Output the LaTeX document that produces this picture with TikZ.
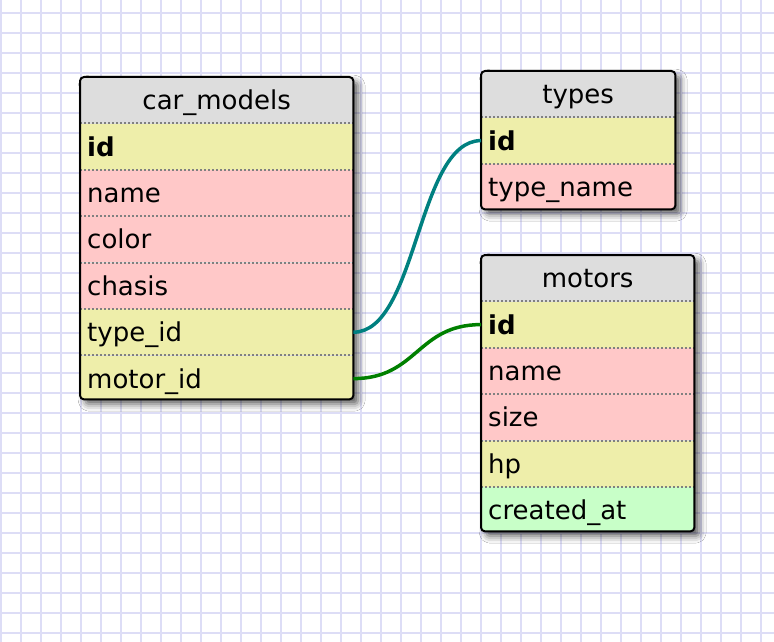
\documentclass[tikz,border=0pt]{standalone}
\usepackage{fontspec}
\setmainfont{DejaVu Sans}
\usetikzlibrary{positioning}
\usetikzlibrary{shadows.blur}
\definecolor{gridc}{RGB}{221, 221, 246}
\definecolor{headc}{RGB}{221, 221, 221}
\definecolor{keyc}{RGB}{238, 238, 170}
\definecolor{colc}{RGB}{255, 200, 200}
\definecolor{datec}{RGB}{200, 255, 200}
\definecolor{sepc}{RGB}{128, 128, 128}
\definecolor{linkteal}{RGB}{0, 128, 128}
\definecolor{linkgreen}{RGB}{0, 128, 0}
\tikzset{
  gridline/.style={line width=2pt, color=gridc},
  frame/.style={rectangle, rounded corners=4pt, inner sep=0pt, anchor=north west, fill=headc,
    blur shadow={shadow xshift=5pt, shadow yshift=-5pt, shadow blur radius=7pt, shadow opacity=65}},
  border/.style={line width=2pt, color=black, rounded corners=4pt},
  cell/.style={rectangle, inner xsep=7pt, inner ysep=0pt, minimum height=46pt,
    text height=22pt, text depth=3pt, align=left},
  head/.style={cell, fill=headc, align=center, anchor=north west},
  sep/.style={line width=2pt, color=sepc, dash pattern=on 2pt off 2pt},
  link/.style={line width=3.5pt}
}
\begin{document}
\begin{tikzpicture}[x=1pt, y=-1pt, font=\fontsize{26}{30}\selectfont]
\useasboundingbox (0,0) rectangle (774,642);
\fill[white] (0,0) rectangle (774,642);
\foreach \x in {1,21,...,761} \draw[gridline] (\x,0) -- (\x,642);
\foreach \y in {13,33,...,633} \draw[gridline] (0,\y) -- (774,\y);

% car_models
\node (cm) [frame, minimum width=273pt, minimum height=322pt] at (80,77) {};
\begin{scope}
\clip[rounded corners=4pt] (cm.north west) rectangle (cm.south east);
\node (cm_head) [head, text width=259pt] at (80,77) {car\_models};
\node (cm_id) [cell, fill=keyc, text width=259pt, below=0pt of cm_head] {\textbf{id}};
\node (cm_name) [cell, fill=colc, text width=259pt, below=0pt of cm_id] {name};
\node (cm_color) [cell, fill=colc, text width=259pt, below=0pt of cm_name] {color};
\node (cm_chasis) [cell, fill=colc, text width=259pt, below=0pt of cm_color] {chasis};
\node (cm_type) [cell, fill=keyc, text width=259pt, below=0pt of cm_chasis] {type\_id};
\node (cm_motor) [cell, fill=keyc, text width=259pt, below=0pt of cm_type] {motor\_id};
\end{scope}
\foreach \r in {cm_id, cm_name, cm_color, cm_chasis, cm_type, cm_motor}
  \draw[sep] (\r.north west) -- (\r.north east);
\draw[border] (cm.north west) rectangle (cm.south east);

% types
\node (ty) [frame, minimum width=194pt, minimum height=138pt] at (481,71) {};
\begin{scope}
\clip[rounded corners=4pt] (ty.north west) rectangle (ty.south east);
\node (ty_head) [head, text width=180pt] at (481,71) {types};
\node (ty_id) [cell, fill=keyc, text width=180pt, below=0pt of ty_head] {\textbf{id}};
\node (ty_name) [cell, fill=colc, text width=180pt, below=0pt of ty_id] {type\_name};
\end{scope}
\foreach \r in {ty_id, ty_name}
  \draw[sep] (\r.north west) -- (\r.north east);
\draw[border] (ty.north west) rectangle (ty.south east);

% motors
\node (mo) [frame, minimum width=213pt, minimum height=276pt] at (481,255) {};
\begin{scope}
\clip[rounded corners=4pt] (mo.north west) rectangle (mo.south east);
\node (mo_head) [head, text width=199pt] at (481,255) {motors};
\node (mo_id) [cell, fill=keyc, text width=199pt, below=0pt of mo_head] {\textbf{id}};
\node (mo_name) [cell, fill=colc, text width=199pt, below=0pt of mo_id] {name};
\node (mo_size) [cell, fill=colc, text width=199pt, below=0pt of mo_name] {size};
\node (mo_hp) [cell, fill=keyc, text width=199pt, below=0pt of mo_size] {hp};
\node (mo_created) [cell, fill=datec, text width=199pt, below=0pt of mo_hp] {created\_at};
\end{scope}
\foreach \r in {mo_id, mo_name, mo_size, mo_hp, mo_created}
  \draw[sep] (\r.north west) -- (\r.north east);
\draw[border] (mo.north west) rectangle (mo.south east);

% links
\draw[link, color=linkteal] (cm_type.east) .. controls +(64,0) and +(-64,0) .. (ty_id.west);
\draw[link, color=linkgreen] (cm_motor.east) .. controls +(64,0) and +(-64,0) .. (mo_id.west);
\end{tikzpicture}
\end{document}
